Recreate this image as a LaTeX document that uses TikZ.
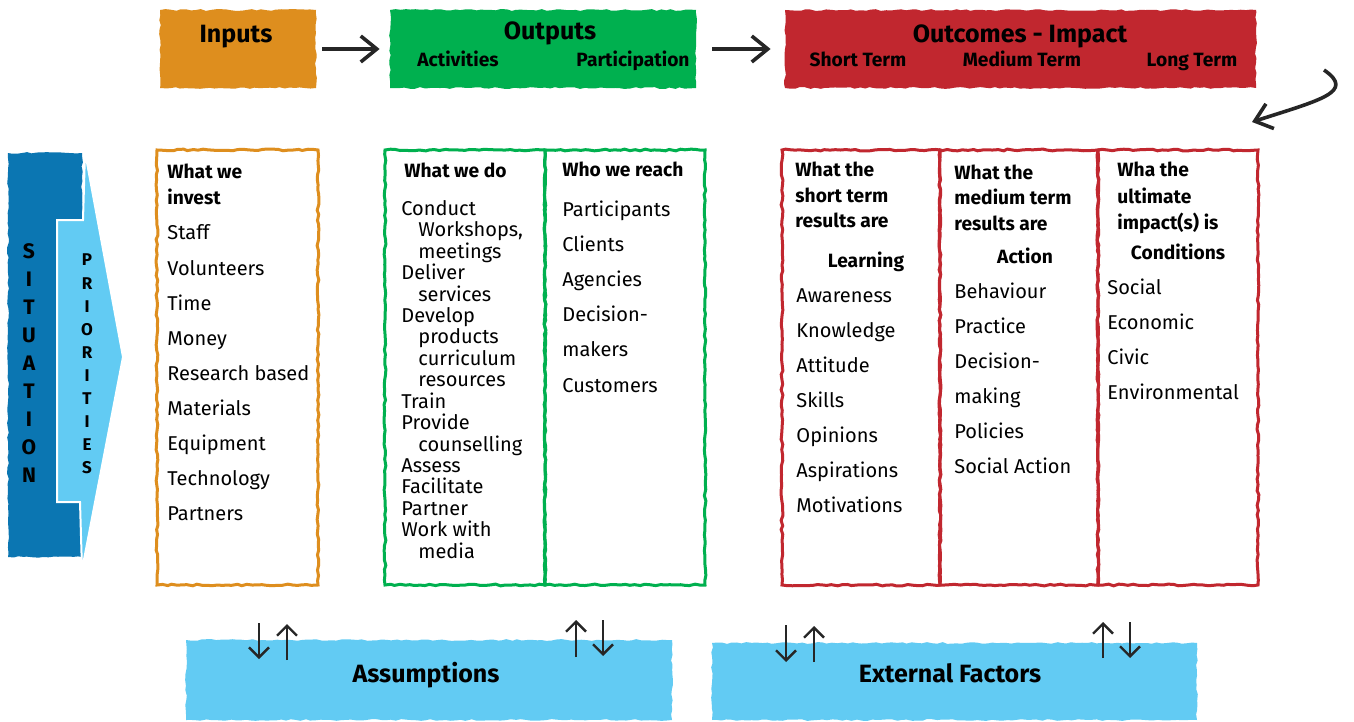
\documentclass[tikz,border=0pt]{standalone}
\usepackage{fontspec}
\setmainfont{Fira Sans}
\usetikzlibrary{arrows.meta,decorations.pathmorphing}
\definecolor{InOrange}{HTML}{DE8E1E}
\definecolor{OutGreen}{HTML}{00B04F}
\definecolor{ImpRed}{HTML}{C1272F}
\definecolor{SitBlue}{HTML}{0B76B2}
\definecolor{SkyBlue}{HTML}{62CBF3}
\definecolor{Pencil}{HTML}{262626}
\tikzset{
 rough/.style={decorate,decoration={random steps,segment length=2.5pt,amplitude=.45pt}},
 bar/.style={rough,inner sep=0pt,fill=#1},
 frame/.style={rough,draw=#1,line width=1.5pt,inner sep=0pt},
 txt/.style={inner sep=0pt,text height=.69em,text depth=0pt,yshift=-1pt},
 head/.style={txt,font=\fontsize{12.5}{14}\selectfont\bfseries},
 sub/.style={txt,font=\fontsize{9.6}{11}\selectfont\bfseries},
 item/.style={txt,anchor=west,font=\fontsize{10}{12}\selectfont},
 lead/.style={item,font=\fontsize{9.6}{12}\selectfont\bfseries},
 letter/.style={txt,font=\fontsize{10.5}{12}\selectfont\bfseries},
 flow/.style={-{Straight Barb[length=8pt,width=13pt]},line width=1.8pt,draw=Pencil},
 tick/.style={-{Straight Barb[length=5pt,width=10pt]},line width=1.2pt,draw=Pencil}
}

\begin{document}
\begin{tikzpicture}[x=.5pt,y=-.5pt]
\useasboundingbox[fill=white] (0,0) rectangle (1354,722);

% header strip
\node[bar=InOrange,minimum width=78pt,minimum height=39pt] (inputs) at (238,49) {};
\node[bar=OutGreen,minimum width=153pt,minimum height=39pt] (outputs) at (543,49) {};
\node[bar=ImpRed,minimum width=235.5pt,minimum height=39pt] (outcomes) at (1020.5,49) {};
\node[head] at (236,34) {Inputs};
\node[head] at (550,31) {Outputs};
\node[sub] at (458,58) {Activities};
\node[sub] at (633,58) {Participation};
\node[head] at (1020,34) {Outcomes - Impact};
\node[sub] at (858,58) {Short Term};
\node[sub] at (1022,58) {Medium Term};
\node[sub] at (1192,58) {Long Term};
\draw[flow,shorten <=3pt,shorten >=5pt] (inputs) -- (outputs);
\draw[flow,shorten <=8pt,shorten >=7pt] (outputs) -- (outcomes);

% loop back to the detail boxes
\coordinate (loopS) at (1324,70);
\coordinate (loopE) at (1252,122);
\draw[flow] (loopS) .. controls (1356,92) and (1320,100) .. (loopE);

% situation / priorities
\fill[SitBlue,rough] (8,153) rectangle (82,557);
\filldraw[SkyBlue,draw=white,line width=1pt] (57,220) -- (83,220) -- (85,152) -- (123,357)
 -- (82,570) -- (80,502) -- (57,502) -- cycle;
\foreach \c [count=\i from 0] in {S,I,T,U,A,T,I,O,N}
 \node[letter] at (29,250+27.9*\i) {\c};
\foreach \c [count=\i from 0] in {P,R,I,O,R,I,T,I,E,S}
 \node[letter,font=\fontsize{8.5}{10}\selectfont\bfseries] at (87,257+23.1*\i) {\c};

% detail columns
\node[frame=InOrange,minimum width=80.5pt,minimum height=217.5pt] (invest) at (237.5,367.5) {};
\node[frame=OutGreen,minimum width=80pt,minimum height=217.5pt] (doing) at (465,367.5) {};
\node[frame=OutGreen,minimum width=80pt,minimum height=217.5pt] (reach) at (625,367.5) {};
\node[frame=ImpRed,minimum width=79pt,minimum height=217.5pt] (short) at (861,367.5) {};
\node[frame=ImpRed,minimum width=79pt,minimum height=217.5pt] (medium) at (1019,367.5) {};
\node[frame=ImpRed,minimum width=80pt,minimum height=217.5pt] (long) at (1178,367.5) {};

\foreach \y/\t in {170/What we,196/invest} \node[lead] at (167,\y) {\t};
\foreach \y/\t in {231/Staff,267/Volunteers,302/Time,337/Money,372/Research based,
 407/Materials,442/Equipment,477/Technology,512/Partners}
 \node[item] at (167,\y) {\t};

\node[lead] at (404,169) {What we do};
\foreach \x/\y/\t in {401/207/Conduct,418/228/{Workshops,},418/250/meetings,401/271/Deliver,
 418/293/services,401/314/Develop,418/335/products,418/357/curriculum,418/378/resources,
 401/400/Train,401/421/Provide,418/443/counselling,401/464/Assess,401/485/Facilitate,
 401/507/Partner,401/528/Work with,418/550/media}
 \node[item] at (\x,\y) {\t};

\node[lead] at (562,168) {Who we reach};
\foreach \y/\t in {208/Participants,243/Clients,278/Agencies,313/Decision-,348/makers,384/Customers}
 \node[item] at (562,\y) {\t};

\foreach \y/\t in {168/What the,194/short term,219/results are} \node[lead] at (795,\y) {\t};
\node[sub] at (866,259) {Learning};
\foreach \y/\t in {294/Awareness,329/Knowledge,364/Attitude,399/Skills,434/Opinions,
 469/Aspirations,504/Motivations}
 \node[item] at (796,\y) {\t};

\foreach \y/\t in {171/What the,196/medium term,222/results are} \node[lead] at (954,\y) {\t};
\node[sub] at (1025,255) {Action};
\foreach \y/\t in {290/Behaviour,325/Practice,360/Decision-,395/making,430/Policies,465/Social Action}
 \node[item] at (954,\y) {\t};

\foreach \y/\t in {168/Wha the,195/ultimate,221/impact(s) is} \node[lead] at (1117,\y) {\t};
\node[sub] at (1178,251) {Conditions};
\foreach \y/\t in {286/Social,321/Economic,356/Civic,391/Environmental}
 \node[item] at (1107,\y) {\t};

% assumptions and external factors
\node[bar=SkyBlue,minimum width=243pt,minimum height=40pt] (assume) at (429,680) {};
\node[bar=SkyBlue,minimum width=242.5pt,minimum height=38.5pt] (external) at (954.5,681.5) {};
\node[head] at (426,674) {Assumptions};
\node[head] at (950,674) {External Factors};
\foreach \x/\a/\b in {259/623/659,287/660/624,576/657/620,603/620/656,
 786/625/662,814/662/626,1103/658/622,1130/622/658} {
 \coordinate (from) at (\x,\a);
 \coordinate (to) at (\x,\b);
 \draw[tick] (from) -- (to);
}
\end{tikzpicture}
\end{document}
